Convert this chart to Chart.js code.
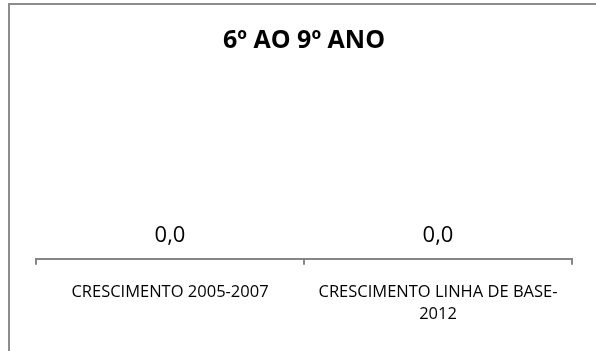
<!DOCTYPE html>
<html>
<head>
<meta charset="utf-8">
<script src="https://cdn.jsdelivr.net/npm/chart.js@4"></script>
<style>
  html, body { margin: 0; padding: 0; background: #fff; overflow: hidden; }
  #frame {
    position: absolute; left: 8px; top: 3px; width: 700px; height: 500px;
    border-top: 2px solid #8c8c8c; border-left: 2px solid #8c8c8c;
  }
  #wrap { position: absolute; left: 0; top: 0; width: 596px; height: 351px; }
</style>
</head>
<body>
<div id="frame"></div>
<div id="wrap"><canvas id="myChart" width="596" height="351"></canvas></div>
<script>
var chartTitle = '6º AO 9º ANO';
var categories = ['CRESCIMENTO 2005-2007', ['CRESCIMENTO LINHA DE BASE-', '2012']];
var values = [0.0, 0.0];

var fontFamily = "'Open Sans', sans-serif";

// writes the value over each bar, decimal comma
var valueLabels = {
    id: 'valueLabels',
    afterDatasetsDraw: function (chart) {
        var ctx = chart.ctx;
        var meta = chart.getDatasetMeta(0);
        ctx.save();
        ctx.font = '22px ' + fontFamily;
        ctx.fillStyle = '#000';
        ctx.textAlign = 'center';
        ctx.textBaseline = 'middle';
        meta.data.forEach(function (bar, i) {
            ctx.fillText(values[i].toFixed(1).replace('.', ','), bar.x, bar.y - 23);
        });
        ctx.restore();
    }
};

var ctx = document.getElementById('myChart');
var myBarChart = new Chart(ctx, {
    type: 'bar',
    data: {
        labels: categories,
        datasets: [{
            data: values,
            backgroundColor: '#4f81bd'
        }]
    },
    options: {
        responsive: false,
        animation: false,
        layout: { padding: { left: 36, right: 24, top: 0, bottom: 9 } },
        plugins: {
            legend: { display: false },
            tooltip: { enabled: false },
            title: {
                display: true,
                text: chartTitle,
                color: '#000',
                font: { family: fontFamily, size: 25, weight: 'bold' },
                padding: { top: 26, bottom: 20 }
            }
        },
        scales: {
            x: {
                grid: {
                    display: true,
                    drawOnChartArea: false,
                    drawTicks: true,
                    tickLength: 6,
                    color: '#868686',
                    lineWidth: 2
                },
                border: { display: true, color: '#868686', width: 2 },
                ticks: {
                    color: '#000',
                    padding: 16,
                    maxRotation: 0,
                    autoSkip: false,
                    font: { family: fontFamily, size: 16.5, lineHeight: 1.375 }
                }
            },
            y: {
                display: false,
                min: 0,
                max: 10
            }
        }
    },
    plugins: [valueLabels]
});
</script>
</body>
</html>
